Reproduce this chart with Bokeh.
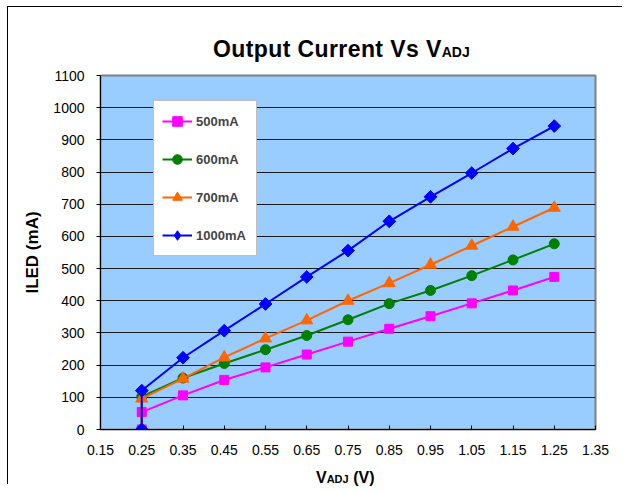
import math
from bokeh.plotting import figure
from bokeh.layouts import column
from bokeh.models import Range1d, FixedTicker, PrintfTickFormatter, Legend, LegendItem, Div
from bokeh.embed import file_html
from bokeh.resources import INLINE

# ---- data ----
vadj = [0.25, 0.25, 0.35, 0.45, 0.55, 0.65, 0.75, 0.85, 0.95, 1.05, 1.15, 1.25]
i500 = [0, 54, 106, 154, 193, 233, 273, 313, 352, 392, 432, 474]
i600 = [0, 102, 160, 205, 248, 292, 341, 391, 432, 478, 527, 577]
i700 = [0, 96, 158, 224, 283, 339, 400, 455, 512, 571, 630, 689]
i1000 = [0, 121, 223, 307, 390, 474, 556, 647, 723, 797, 873, 943]
series_names = ["500mA", "600mA", "700mA", "1000mA"]
x_ticks = [0.15, 0.25, 0.35, 0.45, 0.55, 0.65, 0.75, 0.85, 0.95, 1.05, 1.15, 1.25, 1.35]
y_ticks = [0, 100, 200, 300, 400, 500, 600, 700, 800, 900, 1000, 1100]
title_main = "Output Current Vs V"
title_sub = "ADJ"
xlabel_main = "V"
xlabel_sub = "ADJ"
xlabel_unit = " (V)"
ylabel = "ILED (mA)"

FONT = "Liberation Sans"

p = figure(width=614, height=400, output_backend="svg", toolbar_location=None,
           x_range=Range1d(0.15, 1.35), y_range=Range1d(0, 1100),
           min_border_left=92, min_border_right=27, min_border_top=12, min_border_bottom=34,
           margin=0)
p.background_fill_color = "#99CCFF"
p.border_fill_color = "white"
p.outline_line_color = "#808080"
p.outline_line_width = 2

# axes
p.xaxis.ticker = FixedTicker(ticks=x_ticks)
p.xaxis.formatter = PrintfTickFormatter(format="%.2f")
p.yaxis.ticker = FixedTicker(ticks=y_ticks)
for ax in (p.xaxis, p.yaxis):
    ax.axis_line_color = "black"
    ax.axis_line_width = 1
    ax.major_tick_line_color = "black"
    ax.minor_tick_line_color = None
    ax.major_label_text_font = FONT
    ax.major_label_text_font_size = "14px"
    ax.major_label_text_color = "black"
p.xaxis.major_tick_in = 4
p.xaxis.major_tick_out = 0
p.xaxis.major_label_standoff = 15
p.yaxis.major_tick_in = 0
p.yaxis.major_tick_out = 4
p.yaxis.major_label_standoff = 12
p.yaxis.axis_label = ylabel
p.yaxis.axis_label_text_font = FONT
p.yaxis.axis_label_text_font_size = "17px"
p.yaxis.axis_label_text_font_style = "bold"
p.yaxis.axis_label_text_color = "black"
p.yaxis.axis_label_standoff = 8

p.xgrid.grid_line_color = None
p.ygrid.grid_line_color = "#1a1a1a"
p.ygrid.grid_line_width = 1

colors = ["#FF00FF", "#008000", "#FF6600", "#0000FF"]
data = [i500, i600, i700, i1000]
items = []
for name, ys, c in zip(series_names, data, colors):
    ln = p.line(vadj, ys, line_color=c, line_width=2)
    if name == "500mA":
        mk = p.scatter(vadj, ys, marker="square", size=9, fill_color=c, line_color=c)
        items.append(LegendItem(label=name, renderers=[ln, mk]))
    elif name == "600mA":
        mk = p.scatter(vadj, ys, marker="circle", size=10, fill_color=c, line_color=c)
        items.append(LegendItem(label=name, renderers=[ln, mk]))
    elif name == "700mA":
        mk = p.scatter(vadj, ys, marker="triangle", size=12, fill_color=c, line_color=c)
        items.append(LegendItem(label=name, renderers=[ln, mk]))
    else:
        mk = p.scatter(vadj, ys, marker="square", angle=math.pi / 4, size=9,
                       fill_color=c, line_color=c)
        # hidden legend-only proxy so the legend swatch shows a diamond
        proxy = p.scatter(vadj, ys, marker="diamond", size=12, fill_color=c, line_color=c,
                          visible=False)
        items.append(LegendItem(label=name, renderers=[ln, proxy]))

legend = Legend(items=items, location=(53, 173))
legend.background_fill_color = "white"
legend.background_fill_alpha = 1
legend.border_line_color = "#808080"
legend.border_line_width = 1
legend.inactive_fill_alpha = 0
legend.padding = 8
legend.spacing = 14
legend.glyph_width = 30
legend.glyph_height = 24
legend.label_height = 24
legend.label_width = 52
legend.label_standoff = 4
legend.label_text_font = FONT
legend.label_text_font_size = "13px"
legend.label_text_font_style = "bold"
legend.margin = 0
p.add_layout(legend, "center")

title_div = Div(
    text=(f'<div style="font-family:\'{FONT}\';font-weight:bold;font-size:23px;line-height:20px;'
          f'letter-spacing:0.4px;padding-top:32px;padding-left:205px;text-align:left;'
          f'white-space:nowrap;color:black">{title_main}'
          f'<span style="font-size:14px;letter-spacing:0">{title_sub}</span></div>'),
    width=614, height=56, margin=0)

xlabel_div = Div(
    text=(f'<div style="font-family:\'{FONT}\';font-weight:bold;font-size:16px;line-height:13px;'
          f'padding-top:8px;padding-left:308px;text-align:left;white-space:pre;color:black">'
          f'{xlabel_main}<span style="font-size:11px">{xlabel_sub}</span>{xlabel_unit}</div>'),
    width=614, height=21, margin=0)

root = column(title_div, p, xlabel_div, margin=(6, 0, 0, 7), spacing=0,
              styles={"border-left": "1px solid black", "border-top": "1px solid black"})

open("out.html", "w").write(file_html(root, INLINE))
